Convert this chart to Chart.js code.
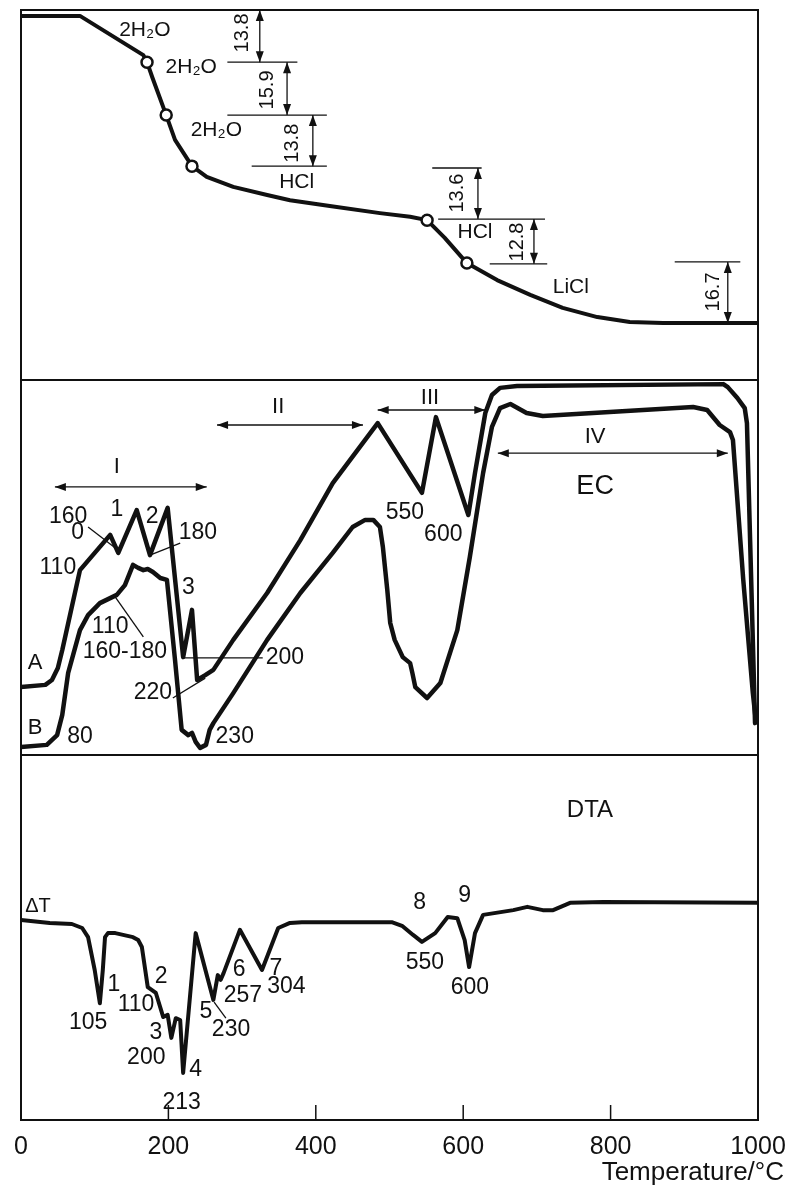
<!DOCTYPE html>
<html>
<head>
<meta charset="utf-8">
<script src="https://cdn.jsdelivr.net/npm/chart.js@4.4.1/dist/chart.umd.min.js"></script>
<style>
  html, body { margin: 0; padding: 0; background: #fff; }
  #wrap { position: relative; width: 787px; height: 1191px; }
  canvas { position: absolute; left: 0; }
</style>
</head>
<body>
<div id="wrap">
  <canvas id="tg" width="787" height="390" style="top:0px"></canvas>
  <canvas id="ec" width="787" height="395" style="top:370px"></canvas>
  <canvas id="dta" width="787" height="446" style="top:745px"></canvas>
</div>
<script>
const FONT = '"Liberation Sans", Arial, sans-serif';
const INK = '#111';

// ---- TG curve (temperature °C, relative mass in arbitrary units 0-100) ----
const tgT = [0, 80, 166, 171, 178, 197, 209, 232, 252, 288, 334, 365, 419, 487, 528, 551, 575, 605, 646, 691, 735, 782, 826, 871, 1000];
const tgV = [98.4, 98.4, 87.8, 85.9, 81.9, 71.6, 64.9, 57.8, 54.9, 52.2, 50.0, 48.6, 47.0, 45.1, 44.1, 43.2, 38.4, 31.6, 27.0, 23.0, 19.5, 17.0, 15.7, 15.4, 15.4];
const tgMarkT = [171, 197, 232, 551, 605];
const tgMarkV = [85.9, 71.6, 57.8, 43.2, 31.6];
const tgText = ['2H₂O', '2H₂O', '2H₂O', 'HCl', 'HCl', 'LiCl'];
const tgTextT = [168, 231, 265, 374, 616, 746];
const tgTextV = [94.6, 84.6, 67.6, 53.5, 40.0, 25.1];
// mass-loss steps
const tgStep = ['13.8', '15.9', '13.8', '13.6', '12.8', '16.7'];
const tgStepT = [324, 361, 396, 620, 696, 959];
const tgStepTop = [100, 85.9, 71.6, 57.3, 43.5, 31.9];
const tgStepBot = [85.9, 71.6, 57.8, 43.5, 31.4, 15.4];
const tgStepLabelT = [300, 334, 369, 592, 673, 939];
const tgStepLabelV = [93.8, 78.4, 64.0, 50.5, 37.3, 23.8];
const tgLevelV = [85.9, 71.6, 57.8, 57.3, 43.5, 31.4, 31.9];
const tgLevelFrom = [280, 280, 313, 558, 566, 636, 887];
const tgLevelTo = [375, 415, 415, 625, 711, 714, 976];

// ---- EC curves A and B ----
const ecAT = [0, 33, 42, 50, 56, 80, 121, 132, 157, 175, 199, 220, 232, 239, 250, 261, 288, 334, 379, 423, 484, 544, 563, 607, 616, 630, 639, 650, 673, 953, 959, 972, 982, 985, 996];
const ecAV = [18.1, 18.7, 20.0, 23.2, 28.0, 49.3, 58.7, 53.9, 65.3, 53.3, 65.9, 26.1, 38.7, 20.0, 21.3, 22.7, 30.7, 43.2, 57.3, 72.5, 88.5, 69.9, 90.1, 64.0, 75.2, 91.2, 96.0, 97.9, 98.4, 98.9, 98.1, 95.2, 92.5, 88.5, 8.5];
const ecBT = [0, 35, 49, 56, 64, 80, 91, 107, 130, 141, 152, 159, 166, 172, 179, 189, 198, 209, 218, 227, 232, 237, 243, 251, 256, 261, 288, 334, 379, 423, 450, 467, 478, 487, 491, 497, 501, 507, 518, 528, 531, 535, 551, 569, 592, 609, 627, 639, 650, 664, 686, 708, 912, 931, 948, 962, 966, 980, 993, 997];
const ecBV = [2.1, 2.7, 5.3, 10.7, 21.9, 33.3, 37.3, 40.5, 42.7, 45.3, 50.7, 49.9, 49.3, 49.6, 48.8, 47.2, 46.7, 25.3, 6.7, 5.3, 5.9, 3.5, 1.9, 2.7, 6.7, 8.5, 16.5, 30.7, 43.2, 53.9, 60.8, 62.7, 62.7, 60.8, 55.5, 44.0, 35.2, 30.7, 26.1, 24.5, 21.9, 18.1, 15.2, 19.2, 33.3, 52.8, 75.2, 87.5, 92.5, 93.6, 91.2, 90.4, 92.8, 92.0, 88.0, 86.1, 84.0, 46.7, 16.5, 9.3];
const ecText = ['160', '0', '1', '2', '180', '110', '3', '110', '160-180', 'A', '200', '220', 'B', '80', '230', '550', '600'];
const ecTextT = [64, 77, 130, 178, 240, 50, 227, 121, 141, 19, 358, 179, 19, 80, 290, 521, 573];
const ecTextV = [63.5, 59.2, 65.3, 63.5, 59.2, 49.9, 44.5, 34.1, 27.5, 24.5, 25.9, 16.5, 7.2, 4.8, 4.8, 64.5, 58.7];
const ecLeadT1 = [91, 175, 128, 220, 206];
const ecLeadV1 = [60.8, 53.3, 42.1, 25.9, 15.2];
const ecLeadT2 = [128, 216, 166, 328, 250];
const ecLeadV2 = [55.2, 56.5, 31.5, 25.9, 20.5];
const ecSpan = ['I', 'II', 'III', 'IV'];
const ecSpanFrom = [46, 266, 484, 647];
const ecSpanTo = [252, 464, 630, 959];
const ecSpanV = [71.5, 88.0, 92.0, 80.5];
const ecSpanLabelT = [130, 349, 555, 779];
const ecSpanLabelV = [76.8, 92.8, 95.2, 84.8];

// ---- DTA ----
const dtaT = [0, 39, 69, 83, 91, 100, 107, 111, 114, 118, 128, 152, 159, 164, 172, 183, 193, 199, 204, 210, 216, 220, 237, 261, 267, 271, 275, 297, 327, 349, 365, 381, 503, 517, 532, 544, 562, 579, 592, 602, 608, 616, 627, 668, 687, 708, 722, 745, 790, 1000];
const dtaV = [54.8, 54.0, 53.7, 52.6, 50.1, 41.1, 32.0, 41.1, 50.1, 51.2, 51.2, 50.1, 49.3, 47.4, 36.4, 34.8, 28.2, 28.8, 22.5, 27.9, 27.4, 12.9, 51.2, 32.9, 39.7, 38.4, 40.3, 52.1, 41.1, 52.6, 54.0, 54.2, 54.2, 53.2, 50.7, 48.8, 51.2, 55.6, 55.3, 49.3, 41.9, 51.2, 56.2, 57.5, 58.4, 57.5, 57.5, 59.5, 59.7, 59.5];
const dtaText = ['ΔT', '1', '105', '110', '2', '3', '200', '4', '213', '5', '230', '6', '257', '7', '304', '8', '550', '9', '600', 'DTA'];
const dtaTextT = [23, 126, 91, 156, 190, 183, 170, 237, 218, 251, 285, 296, 301, 346, 360, 541, 548, 602, 609, 772];
const dtaTextV = [58.4, 37.0, 26.6, 31.5, 39.2, 23.8, 17.0, 13.7, 4.7, 29.6, 24.7, 41.1, 34.2, 41.6, 36.4, 59.5, 43.0, 61.6, 36.2, 84.9];
const xTicks = [0, 200, 400, 600, 800, 1000];

function pts(t, v) { return t.map((x, i) => ({ x: x, y: v[i] })); }

function head(ctx, x, y, dx, dy) {
  const len = Math.hypot(dx, dy) || 1, ux = dx / len, uy = dy / len;
  const L = 11, W = 4;
  ctx.beginPath();
  ctx.moveTo(x, y);
  ctx.lineTo(x - ux * L - uy * W, y - uy * L + ux * W);
  ctx.lineTo(x - ux * L + uy * W, y - uy * L - ux * W);
  ctx.closePath();
  ctx.fill();
}

function sketch(spec) {
  return {
    id: 'sketch',
    afterDatasetsDraw(chart) {
      const ctx = chart.ctx;
      const X = v => chart.scales.x.getPixelForValue(v);
      const Y = v => chart.scales.y.getPixelForValue(v);
      const a = chart.chartArea;
      ctx.save();
      ctx.strokeStyle = INK;
      ctx.fillStyle = INK;
      ctx.lineWidth = 1.3;
      (spec.lines || []).forEach(l => {
        ctx.beginPath(); ctx.moveTo(X(l[0]), Y(l[1])); ctx.lineTo(X(l[2]), Y(l[3])); ctx.stroke();
      });
      (spec.arrows || []).forEach(l => {
        const x1 = X(l[0]), y1 = Y(l[1]), x2 = X(l[2]), y2 = Y(l[3]);
        ctx.beginPath(); ctx.moveTo(x1, y1); ctx.lineTo(x2, y2); ctx.stroke();
        head(ctx, x1, y1, x1 - x2, y1 - y2);
        head(ctx, x2, y2, x2 - x1, y2 - y1);
      });
      (spec.texts || []).forEach(s => {
        ctx.save();
        ctx.font = s[3] + 'px ' + FONT;
        ctx.textAlign = 'center';
        ctx.textBaseline = 'middle';
        ctx.translate(X(s[1]), Y(s[2]));
        if (s[4]) ctx.rotate(-Math.PI / 2);
        ctx.fillText(s[0], 0, 0);
        ctx.restore();
      });
      ctx.lineWidth = 2;
      ctx.strokeRect(a.left, a.top, a.right - a.left, a.bottom - a.top);
      if (spec.after) spec.after(ctx, chart, X, a);
      ctx.restore();
    }
  };
}

function curve(data, w) {
  return { data: data, borderColor: INK, borderWidth: w, pointRadius: 0, tension: 0,
           borderJoinStyle: 'round', borderCapStyle: 'round', fill: false };
}

function panel(id, datasets, pad, xOpts, spec) {
  return new Chart(document.getElementById(id), {
    type: 'line',
    data: { datasets: datasets },
    options: {
      responsive: false,
      animation: false,
      events: [],
      layout: { padding: pad },
      plugins: { legend: { display: false }, tooltip: { enabled: false } },
      scales: {
        x: Object.assign({ type: 'linear', min: 0, max: 1000, display: false }, xOpts),
        y: { type: 'linear', min: 0, max: 100, display: false }
      }
    },
    plugins: [sketch(spec)]
  });
}

// TG panel
panel('tg', [
  { data: pts(tgMarkT, tgMarkV), showLine: false, pointRadius: 5.5, pointBackgroundColor: '#fff',
    pointBorderColor: INK, pointBorderWidth: 2.5 },
  curve(pts(tgT, tgV), 4)
], { left: 21, right: 29, top: 10, bottom: 10 }, {}, {
  lines: tgLevelV.map((v, i) => [tgLevelFrom[i], v, tgLevelTo[i], v]),
  arrows: tgStepT.map((t, i) => [t, tgStepTop[i], t, tgStepBot[i]]),
  texts: tgText.map((s, i) => [s, tgTextT[i], tgTextV[i], 21])
    .concat(tgStep.map((s, i) => [s, tgStepLabelT[i], tgStepLabelV[i], 20, true]))
});

// EC panel
panel('ec', [
  curve(pts(ecAT, ecAV), 4.5),
  curve(pts(ecBT, ecBV), 4.5)
], { left: 21, right: 29, top: 10, bottom: 10 }, {}, {
  lines: ecLeadT1.map((t, i) => [t, ecLeadV1[i], ecLeadT2[i], ecLeadV2[i]]),
  arrows: ecSpanFrom.map((t, i) => [t, ecSpanV[i], ecSpanTo[i], ecSpanV[i]]),
  texts: ecText.map((s, i) => [s, ecTextT[i], ecTextV[i], (s === 'A' || s === 'B') ? 22 : 23])
    .concat(ecSpan.map((s, i) => [s, ecSpanLabelT[i], ecSpanLabelV[i], 22]))
    .concat([['EC', 779, 71.5, 27]])
});

// DTA panel with the temperature axis
panel('dta', [
  curve(pts(dtaT, dtaV), 4)
], { left: 21, right: 29, top: 10, bottom: 0 }, {
  display: true,
  position: 'bottom',
  afterBuildTicks: s => { s.ticks = xTicks.map(v => ({ value: v })); },
  afterFit: s => { s.height = 71; s.paddingLeft = 0; s.paddingRight = 0; },
  border: { display: false },
  grid: { display: false },
  ticks: { color: INK, font: { family: FONT, size: 25 }, padding: 4, maxRotation: 0, autoSkip: false,
           callback: v => String(v) }
}, {
  lines: [[262, 32.3, 278, 27.9]],
  texts: dtaText.map((s, i) => [s, dtaTextT[i], dtaTextV[i], s === 'ΔT' ? 20 : (s === 'DTA' ? 24 : 23)]),
  after: (ctx, chart, X, a) => {
    ctx.lineWidth = 1.5;
    chart.scales.x.ticks.forEach(tk => {
      if (tk.value > 0 && tk.value < 1000) {
        ctx.beginPath(); ctx.moveTo(X(tk.value), a.bottom); ctx.lineTo(X(tk.value), a.bottom - 15); ctx.stroke();
      }
    });
    ctx.font = '26px ' + FONT;
    ctx.textAlign = 'right';
    ctx.textBaseline = 'middle';
    ctx.fillText('Temperature/°C', chart.width - 3, a.bottom + 53);
  }
});
</script>
</body>
</html>
